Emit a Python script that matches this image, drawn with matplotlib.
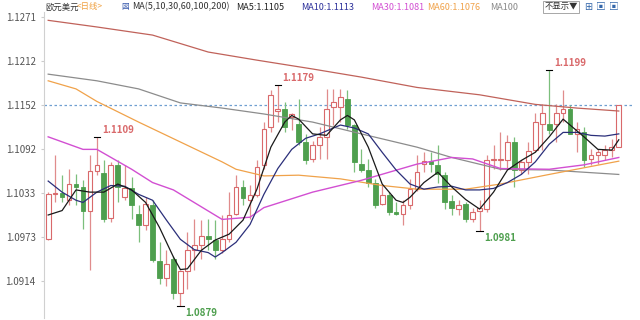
import matplotlib
matplotlib.use("Agg")
import matplotlib.pyplot as plt
import numpy as np

plt.rcParams["font.family"] = ["Noto Sans CJK SC", "DejaVu Sans"]

# daily EUR/USD candles
opens = [1.0971, 1.1031, 1.1033, 1.1024, 1.1045, 1.1041, 1.1008, 1.1062, 1.1060, 1.0999,
         1.1071, 1.1028, 1.1039, 1.1005, 1.0990, 1.1016, 1.0940, 1.0918, 1.0943, 1.0897,
         1.0927, 1.0956, 1.0962, 1.0975, 1.0969, 1.0955, 1.0970, 1.1004, 1.1041, 1.1024,
         1.1030, 1.1071, 1.1122, 1.1144, 1.1147, 1.1136, 1.1126, 1.1102, 1.1079, 1.1098,
         1.1109, 1.1149, 1.1149, 1.1160, 1.1125, 1.1072, 1.1064, 1.1047, 1.1018, 1.1030,
         1.1007, 1.1004, 1.1016, 1.1038, 1.1072, 1.1076, 1.1071, 1.1057, 1.1022, 1.1011,
         1.1018, 1.0997, 1.1009, 1.1011, 1.1077, 1.1077, 1.1077, 1.1102, 1.1064, 1.1075,
         1.1091, 1.1126, 1.1126, 1.1126, 1.1142, 1.1147, 1.1113, 1.1115, 1.1079, 1.1085,
         1.1085, 1.1091, 1.1095]
highs = [1.1034, 1.1084, 1.1057, 1.1065, 1.1058, 1.1050, 1.1085, 1.1109, 1.1077, 1.1075,
         1.1077, 1.1071, 1.1054, 1.1016, 1.1027, 1.1023, 1.0966, 1.0956, 1.0948, 1.0929,
         1.0980, 1.0997, 1.0996, 1.0997, 1.0996, 1.1003, 1.1034, 1.1057, 1.1050, 1.1043,
         1.1077, 1.1129, 1.1172, 1.1179, 1.1156, 1.1142, 1.1160, 1.1113, 1.1104, 1.1122,
         1.1174, 1.1174, 1.1174, 1.1172, 1.1126, 1.1092, 1.1079, 1.1052, 1.1043, 1.1034,
         1.1020, 1.1024, 1.1052, 1.1085, 1.1088, 1.1088, 1.1098, 1.1061, 1.1030, 1.1024,
         1.1020, 1.1013, 1.1024, 1.1085, 1.1098, 1.1115, 1.1111, 1.1109, 1.1077, 1.1102,
         1.1142, 1.1153, 1.1199, 1.1153, 1.1172, 1.1152, 1.1129, 1.1122, 1.1092, 1.1092,
         1.1098, 1.1106, 1.1152]
lows = [1.0969, 1.1020, 1.1020, 1.1016, 1.1016, 1.0984, 1.0928, 1.1057, 1.0994, 1.0993,
        1.1020, 1.1023, 1.0997, 1.0966, 1.0982, 1.0939, 1.0909, 1.0907, 1.0889, 1.0879,
        1.0902, 1.0929, 1.0943, 1.0956, 1.0943, 1.0952, 1.0966, 1.1003, 1.1016, 1.0997,
        1.1027, 1.1065, 1.1115, 1.1129, 1.1115, 1.1118, 1.1098, 1.1072, 1.1075, 1.1079,
        1.1079, 1.1125, 1.1129, 1.1119, 1.1061, 1.1061, 1.1041, 1.1013, 1.1016, 1.1003,
        1.1003, 1.0989, 1.1011, 1.1036, 1.1061, 1.1061, 1.1047, 1.1011, 1.1003, 1.1003,
        1.0993, 1.0993, 1.0981, 1.1007, 1.1065, 1.1064, 1.1065, 1.1041, 1.1058, 1.1058,
        1.1088, 1.1091, 1.1113, 1.1102, 1.1129, 1.1113, 1.1088, 1.1068, 1.1071, 1.1072,
        1.1077, 1.1081, 1.1095]
closes = [1.1031, 1.1033, 1.1027, 1.1045, 1.1041, 1.1008, 1.1062, 1.1071, 1.0997, 1.1071,
          1.1041, 1.1039, 1.1016, 1.0990, 1.1018, 1.0942, 1.0918, 1.0936, 1.0897, 1.0927,
          1.0956, 1.0962, 1.0975, 1.0970, 1.0955, 1.0970, 1.1003, 1.1041, 1.1026, 1.1030,
          1.1068, 1.1119, 1.1166, 1.1147, 1.1122, 1.1140, 1.1102, 1.1077, 1.1098, 1.1109,
          1.1147, 1.1156, 1.1163, 1.1125, 1.1075, 1.1064, 1.1047, 1.1016, 1.1030, 1.1007,
          1.1004, 1.1016, 1.1038, 1.1061, 1.1076, 1.1072, 1.1058, 1.1020, 1.1012, 1.1016,
          1.0997, 1.1007, 1.1013, 1.1077, 1.1079, 1.1079, 1.1102, 1.1064, 1.1075, 1.1090,
          1.1129, 1.1142, 1.1118, 1.1142, 1.1147, 1.1113, 1.1119, 1.1077, 1.1085, 1.1088,
          1.1091, 1.1095, 1.1152]

# moving averages, sampled at candle positions
ma5_idx = [0, 2, 4, 6, 8, 10, 12, 14, 16, 18, 19, 20, 22, 24, 26, 28, 30, 32, 34, 35, 36, 38,
           40, 42, 43, 44, 46, 48, 50, 51, 52, 54, 56, 58, 60, 62, 64, 66, 68, 70, 72, 74, 75,
           77, 79, 81, 82]
ma5_val = [1.1003, 1.1009, 1.1037, 1.1034, 1.1034, 1.1045, 1.1037, 1.1020, 1.0986, 1.0946,
           1.0929, 1.0930, 1.0955, 1.0969, 1.0977, 1.0996, 1.1038, 1.1095, 1.1129, 1.1138,
           1.1133, 1.1113, 1.1111, 1.1132, 1.1138, 1.1132, 1.1095, 1.1045, 1.1023, 1.1020,
           1.1027, 1.1047, 1.1061, 1.1041, 1.1024, 1.1011, 1.1034, 1.1064, 1.1077, 1.1088,
           1.1109, 1.1133, 1.1125, 1.1109, 1.1092, 1.1091, 1.1105]
ma10_idx = [0, 2, 4, 5, 7, 9, 11, 13, 15, 17, 19, 21, 23, 24, 25, 27, 29, 31, 33, 35, 37, 39,
            41, 42, 44, 46, 48, 50, 52, 54, 56, 58, 60, 62, 64, 66, 68, 70, 72, 74, 76, 78,
            80, 82]
ma10_val = [1.1049, 1.1034, 1.1023, 1.1020, 1.1034, 1.1043, 1.1042, 1.1031, 1.1023, 1.0996,
            1.0970, 1.0956, 1.0952, 1.0946, 1.0952, 1.0966, 1.0990, 1.1031, 1.1066, 1.1092,
            1.1107, 1.1113, 1.1121, 1.1125, 1.1121, 1.1113, 1.1088, 1.1064, 1.1045, 1.1038,
            1.1041, 1.1042, 1.1037, 1.1037, 1.1039, 1.1047, 1.1058, 1.1075, 1.1099, 1.1115,
            1.1115, 1.1111, 1.1110, 1.1113]
ma30_idx = [0, 5, 7, 12, 15, 18, 25, 29, 31, 38, 45, 53, 58, 61, 65, 72, 77, 82]
ma30_val = [1.1109, 1.1092, 1.1092, 1.1065, 1.1047, 1.1037, 1.0997, 1.1000, 1.1013, 1.1034,
            1.1050, 1.1072, 1.1081, 1.1079, 1.1066, 1.1065, 1.1071, 1.1081]
ma60_idx = [0, 4, 7, 13, 19, 25, 27, 31, 36, 42, 48, 53, 60, 65, 72, 82]
ma60_val = [1.1185, 1.1174, 1.1157, 1.1129, 1.1102, 1.1075, 1.1065, 1.1056, 1.1057, 1.1052,
            1.1043, 1.1038, 1.1038, 1.1045, 1.1058, 1.1076]
ma100_idx = [0, 7, 13, 19, 25, 31, 38, 45, 53, 58, 65, 72, 77, 82]
ma100_val = [1.1194, 1.1185, 1.1174, 1.1155, 1.1148, 1.1140, 1.1129, 1.1113, 1.1095, 1.1081,
             1.1065, 1.1064, 1.1061, 1.1058]
ma200_idx = [0, 7, 15, 23, 30, 38, 45, 53, 62, 70, 76, 82]
ma200_val = [1.1267, 1.1258, 1.1247, 1.1224, 1.1213, 1.1201, 1.1190, 1.1176, 1.1166, 1.1153,
             1.1148, 1.1144]

ytick_vals = [1.1271, 1.1212, 1.1152, 1.1092, 1.1033, 1.0973, 1.0914]
last_price = 1.1152

RED = "#d9696b"
GREEN = "#4e9f4e"

fig = plt.figure(figsize=(6.4, 3.2), dpi=100)
ax = fig.add_axes([44 / 640, 2 / 320, 588 / 640, 306 / 320])

x = np.arange(len(opens))
o = np.array(opens)
c = np.array(closes)
up = c >= o

# wicks
ax.vlines(x[up], np.array(lows)[up], np.array(highs)[up], color="#e08c8c", lw=0.9, zorder=2)
ax.vlines(x[~up], np.array(lows)[~up], np.array(highs)[~up], color="#7cbf7c", lw=0.9, zorder=2)

# bodies
bot = np.minimum(o, c)
hgt = np.maximum(np.abs(c - o), 0.00004)
ax.bar(x[up], hgt[up], bottom=bot[up], width=0.68, facecolor="white",
       edgecolor=RED, linewidth=0.8, zorder=3)
ax.bar(x[~up], hgt[~up], bottom=bot[~up], width=0.68, facecolor=GREEN,
       edgecolor=GREEN, linewidth=0.6, zorder=3)

# moving averages
ax.plot(ma200_idx, ma200_val, color="#c0625a", lw=0.9, zorder=4)
ax.plot(ma100_idx, ma100_val, color="#8c8c8c", lw=0.9, zorder=4)
ax.plot(ma60_idx, ma60_val, color="#f0a24a", lw=0.9, zorder=4)
ax.plot(ma30_idx, ma30_val, color="#d24fd2", lw=1.0, zorder=4)
ax.plot(ma10_idx, ma10_val, color="#2b2f7a", lw=0.9, zorder=5)
ax.plot(ma5_idx, ma5_val, color="#1a1a1a", lw=0.9, zorder=5)

ax.axhline(last_price, color="#6f9fd0", lw=0.9, ls=(0, (2, 2)), zorder=1)

# extreme markers
for i, v, col, dy, va in [(7, 1.1109, RED, 0.0003, "bottom"),
                          (33, 1.1179, RED, 0.0003, "bottom"),
                          (72, 1.1199, RED, 0.0003, "bottom"),
                          (19, 1.0879, GREEN, -0.0002, "top"),
                          (62, 1.0981, GREEN, -0.0003, "top")]:
    ax.plot([i - 0.45, i + 0.45], [v, v], color="black", lw=0.8, zorder=6)
    ax.text(i + 0.7, v + dy, "%.4f" % v, color=col, fontsize=7, fontweight="bold",
            ha="left", va=va, zorder=6)

ax.set_xlim(-0.6, 83.9)
ax.set_ylim(1.08633, 1.12783)
ax.set_yticks(ytick_vals)
ax.set_yticklabels(["%.4f" % v for v in ytick_vals])
ax.tick_params(axis="y", length=2, color="#cccccc", labelsize=7, labelcolor="#555555", pad=4)
ax.set_xticks([])
for s in ["top", "right", "bottom"]:
    ax.spines[s].set_visible(False)
ax.spines["left"].set_color("#d0d0d0")
ax.spines["left"].set_linewidth(0.8)

# header
hy = 1 - 7 / 320
hs = 6.5
fig.text(45 / 640, hy, "欧元美元", fontsize=6, color="#333333", va="center")
fig.text(77 / 640, hy, "<日线>", fontsize=6, color="#f0a040", va="center")
fig.text(121 / 640, hy, "図", fontsize=5.5, color="#3355aa", va="center")
fig.text(132 / 640, hy, "MA(5,10,30,60,100,200)", fontsize=hs, color="#333333", va="center")
fig.text(236 / 640, hy, "MA5:1.1105", fontsize=hs, color="#222222", va="center")
fig.text(301 / 640, hy, "MA10:1.1113", fontsize=hs, color="#2b2f9a", va="center")
fig.text(371 / 640, hy, "MA30:1.1081", fontsize=hs, color="#d24fd2", va="center")
fig.text(427 / 640, hy, "MA60:1.1076", fontsize=hs, color="#f0a24a", va="center")
fig.text(490 / 640, hy, "MA100", fontsize=hs, color="#888888", va="center")
fig.text(561 / 640, hy, "不显示▼", fontsize=6, color="#333333", va="center", ha="center",
         bbox=dict(boxstyle="square,pad=0.2", fc="white", ec="#999999", lw=0.6))
for k, gx in enumerate([588, 601, 614]):
    fig.text(gx / 640, hy, "⊞" if k == 0 else "▣", fontsize=7, color="#3366aa",
             va="center", ha="center")

fig.savefig("out.png", dpi=100)
